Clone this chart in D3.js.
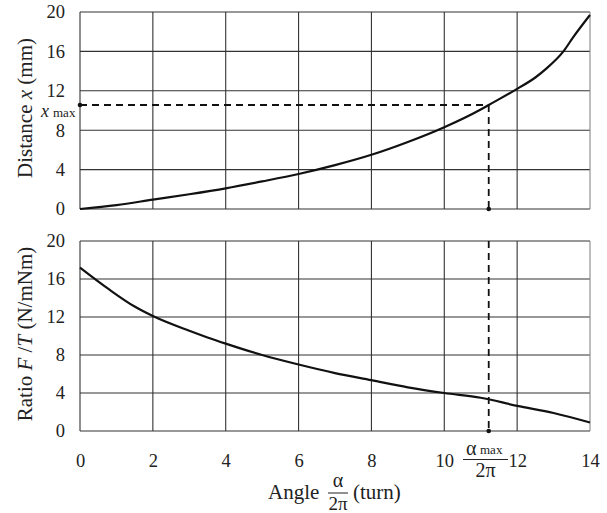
<!DOCTYPE html>
<html>
<head>
<meta charset="utf-8">
<script src="https://cdn.jsdelivr.net/npm/d3@7"></script>
<style>
  body { margin: 0; background: #fff; }
</style>
</head>
<body>
<div id="chart"></div>
<script>
// values
var xTicks = [0, 2, 4, 6, 8, 10, 12, 14];
var yTicks = [0, 4, 8, 12, 16, 20];

var distAngle = [0, 1, 2, 3, 4, 5, 6, 7, 8, 9, 10, 11, 11.22, 12, 12.5, 12.8, 13.27, 13.55, 14];
var distValue = [0, 0.4, 0.95, 1.5, 2.1, 2.8, 3.55, 4.45, 5.5, 6.8, 8.3, 10.1, 10.56, 12.2, 13.35, 14.25, 16, 17.5, 19.7];

var ratioAngle = [0, 0.8, 1.5, 2, 3, 3.5, 4, 5, 6, 7, 8, 9, 10, 11, 12, 13, 14];
var ratioValue = [17.2, 14.9, 13.1, 12.1, 10.55, 9.85, 9.2, 8.0, 7.0, 6.1, 5.35, 4.6, 4.0, 3.5, 2.65, 1.9, 0.9];

var alphaMax = 11.22;
var xMax = 10.56;

var width = 607, height = 513;
var left = 80, right = 590;
var serif = '"Liberation Serif"';

var svg = d3.select("#chart").append("svg")
  .attr("width", width)
  .attr("height", height);

var x = d3.scaleLinear().domain([0, 14]).range([left, right]);
var yTop = d3.scaleLinear().domain([0, 20]).range([209, 12]);
var yBot = d3.scaleLinear().domain([0, 20]).range([431, 241]);

// text helper, always serif
function label(px, py, size) {
  return svg.append("text")
    .attr("x", px).attr("y", py)
    .style("font-family", serif)
    .style("font-size", size + "px")
    .style("fill", "#222");
}

function panel(y, xs, ys) {
  var g = svg.append("g");

  // grid
  g.selectAll(".hgrid").data(yTicks).enter().append("line")
    .attr("x1", left).attr("x2", right)
    .attr("y1", function(d) { return y(d); })
    .attr("y2", function(d) { return y(d); })
    .attr("stroke", "#333").attr("stroke-width", 1.1);
  g.selectAll(".vgrid").data(xTicks).enter().append("line")
    .attr("y1", y(0)).attr("y2", y(20))
    .attr("x1", function(d) { return x(d); })
    .attr("x2", function(d) { return x(d); })
    .attr("stroke", function(d, i) { return i == xTicks.length - 1 ? "#888" : "#333"; })
    .attr("stroke-width", 1.1);

  // y axis labels
  var ax = g.append("g")
    .attr("transform", "translate(" + left + ",0)")
    .call(d3.axisLeft(y).tickValues(yTicks).tickSize(0).tickPadding(15));
  ax.attr("font-family", null).attr("font-size", null);
  ax.select(".domain").remove();
  ax.selectAll("text")
    .style("font-family", serif)
    .style("font-size", "18.5px")
    .attr("fill", "#222");

  var pts = xs.map(function(d, i) { return [d, ys[i]]; });
  var line = d3.line()
    .x(function(d) { return x(d[0]); })
    .y(function(d) { return y(d[1]); })
    .curve(d3.curveMonotoneX);
  g.append("path")
    .datum(pts)
    .attr("d", line)
    .attr("fill", "none")
    .attr("stroke", "#111")
    .attr("stroke-width", 2.2);
  return g;
}

var gTop = panel(yTop, distAngle, distValue);
var gBot = panel(yBot, ratioAngle, ratioValue);

// dashed guides
var dash = "7,5";
gTop.append("line")
  .attr("x1", x(0)).attr("x2", x(alphaMax))
  .attr("y1", yTop(xMax)).attr("y2", yTop(xMax))
  .attr("stroke", "#111").attr("stroke-width", 1.8).attr("stroke-dasharray", dash);
gTop.append("line")
  .attr("x1", x(alphaMax)).attr("x2", x(alphaMax))
  .attr("y1", yTop(xMax)).attr("y2", yTop(0))
  .attr("stroke", "#111").attr("stroke-width", 1.8).attr("stroke-dasharray", dash);
gBot.append("line")
  .attr("x1", x(alphaMax)).attr("x2", x(alphaMax))
  .attr("y1", yBot(20)).attr("y2", yBot(0))
  .attr("stroke", "#111").attr("stroke-width", 1.8).attr("stroke-dasharray", dash);

[[x(0), yTop(xMax)], [x(alphaMax), yTop(0)], [x(alphaMax), yBot(0)]].forEach(function(p) {
  svg.append("circle").attr("cx", p[0]).attr("cy", p[1]).attr("r", 2.3).attr("fill", "#111");
});

// x axis tick labels
var xa = svg.append("g")
  .attr("transform", "translate(0," + yBot(0) + ")")
  .call(d3.axisBottom(x).tickValues(xTicks).tickSize(0).tickPadding(23));
xa.attr("font-family", null).attr("font-size", null);
xa.select(".domain").remove();
xa.selectAll("text")
  .style("font-family", serif)
  .style("font-size", "18.5px")
  .attr("fill", "#222");

// x max label
var xm = label(41, 117, 18);
xm.append("tspan").style("font-style", "italic").text("x");
xm.append("tspan").attr("dx", 4).style("font-size", "13px").text("max");

// alpha max / 2pi label
label(466, 455, 20).text("α");
label(480, 454, 13).text("max");
svg.append("line").attr("x1", 463).attr("x2", 508).attr("y1", 459.5).attr("y2", 459.5)
  .attr("stroke", "#222").attr("stroke-width", 1);
label(485.5, 477, 20).attr("text-anchor", "middle").text("2π");

// axis titles
label(268, 499, 21).text("Angle");
label(338, 487, 20).attr("text-anchor", "middle").text("α");
svg.append("line").attr("x1", 328).attr("x2", 348).attr("y1", 493).attr("y2", 493)
  .attr("stroke", "#222").attr("stroke-width", 1);
label(338, 510, 19).attr("text-anchor", "middle").text("2π");
label(353, 499, 21).text("(turn)");

var t1 = label(0, 0, 21)
  .attr("transform", "translate(32," + 108 + ") rotate(-90)")
  .attr("text-anchor", "middle");
t1.append("tspan").text("Distance ");
t1.append("tspan").style("font-style", "italic").text("x");
t1.append("tspan").text(" (mm)");

var t2 = label(0, 0, 21)
  .attr("transform", "translate(32," + 334 + ") rotate(-90)")
  .attr("text-anchor", "middle");
t2.append("tspan").text("Ratio ");
t2.append("tspan").style("font-style", "italic").text("F");
t2.append("tspan").text(" /");
t2.append("tspan").style("font-style", "italic").text("T");
t2.append("tspan").text(" (N/mNm)");
</script>
</body>
</html>
